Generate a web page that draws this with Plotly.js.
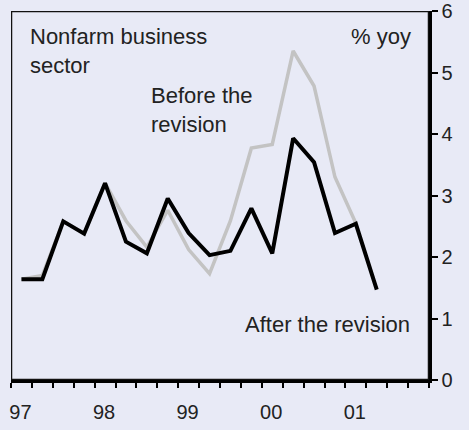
<!DOCTYPE html>
<html>
<head>
<meta charset="utf-8">
<script src="https://cdn.plot.ly/plotly-3.0.1.min.js"></script>
<style>html,body{margin:0;padding:0;background:#e8eaf6;}#chart{width:469px;height:430px;}</style>
</head>
<body>
<div id="chart"></div>
<script>
// Quarterly data, 1997 Q1 .. 2001 Q2
const quarters = ['97Q1','97Q2','97Q3','97Q4','98Q1','98Q2','98Q3','98Q4','99Q1','99Q2','99Q3','99Q4','00Q1','00Q2','00Q3','00Q4','01Q1','01Q2'];
const afterRevision = [1.64,1.64,2.58,2.38,3.20,2.25,2.06,2.95,2.39,2.03,2.10,2.79,2.06,3.93,3.54,2.39,2.54,1.47];
const beforeRevision = [1.64,1.70,2.58,2.38,3.20,2.59,2.16,2.76,2.12,1.73,2.59,3.77,3.83,5.35,4.78,3.30,2.55];
const yearLabels = ['97','98','99','00','01'];
const yTicks = [0,1,2,3,4,5,6];

// quarter index -> axis position (centre of the quarter)
const qpos = arr => arr.map((_, i) => i + 0.5);
const yearPos = yearLabels.map((_, i) => i * 4 + 0.45);

const font = 'Liberation Sans, Arial, Helvetica, sans-serif';
const textCol = '#222222';
const bg = 'rgb(232,234,246)';

const traces = [
  {x: qpos(beforeRevision), y: beforeRevision, type: 'scatter', mode: 'lines',
   line: {color: '#c3c3c3', width: 3.5}, hoverinfo: 'skip', name: 'Before the revision'},
  {x: qpos(afterRevision), y: afterRevision, type: 'scatter', mode: 'lines',
   line: {color: '#000000', width: 4}, hoverinfo: 'skip', name: 'After the revision'}
];

const layout = {
  width: 469, height: 430,
  margin: {l: 11, r: 40, t: 11, b: 50},
  paper_bgcolor: bg, plot_bgcolor: bg,
  showlegend: false,
  font: {family: font, color: textCol, size: 20},
  xaxis: {
    range: [0, 20], tickmode: 'array', tickvals: yearPos, ticktext: yearLabels,
    ticks: '', ticklabelstandoff: 12,
    minor: {tickmode: 'linear', tick0: 0, dtick: 1, ticks: 'outside', ticklen: 5, tickwidth: 2, tickcolor: '#000', showgrid: false},
    showline: true, linecolor: '#000', linewidth: 3,
    showgrid: false, zeroline: false, tickfont: {size: 20, color: textCol}
  },
  yaxis: {
    side: 'right', range: [0, 6], tickmode: 'array', tickvals: yTicks,
    ticks: 'outside', ticklen: 6, tickwidth: 2, tickcolor: '#000',
    showline: true, linecolor: '#000', linewidth: 2.5,
    showgrid: false, zeroline: false, tickfont: {size: 20, color: textCol}
  },
  shapes: [
    {type: 'rect', xref: 'x', yref: 'y', x0: 0, x1: 20, y0: 0, y1: 6, layer: 'above',
     line: {color: '#111111', width: 2.5}, fillcolor: 'rgba(0,0,0,0)'}
  ],
  annotations: [
    {xref: 'paper', yref: 'paper', x: 0.041, y: 0.97, xanchor: 'left', yanchor: 'top', align: 'left',
     text: 'Nonfarm business<br>sector', showarrow: false, font: {size: 22, color: textCol}},
    {xref: 'paper', yref: 'paper', x: 0.962, y: 0.97, xanchor: 'right', yanchor: 'top', align: 'right',
     text: '% yoy', showarrow: false, font: {size: 22, color: textCol}},
    {xref: 'paper', yref: 'paper', x: 0.331, y: 0.81, xanchor: 'left', yanchor: 'top', align: 'left',
     text: 'Before the<br>revision', showarrow: false, font: {size: 22, color: textCol}},
    {xref: 'paper', yref: 'paper', x: 0.555, y: 0.19, xanchor: 'left', yanchor: 'top', align: 'left',
     text: 'After the revision', showarrow: false, font: {size: 22, color: textCol}}
  ]
};

Plotly.newPlot('chart', traces, layout, {displayModeBar: false, staticPlot: true});
</script>
</body>
</html>
